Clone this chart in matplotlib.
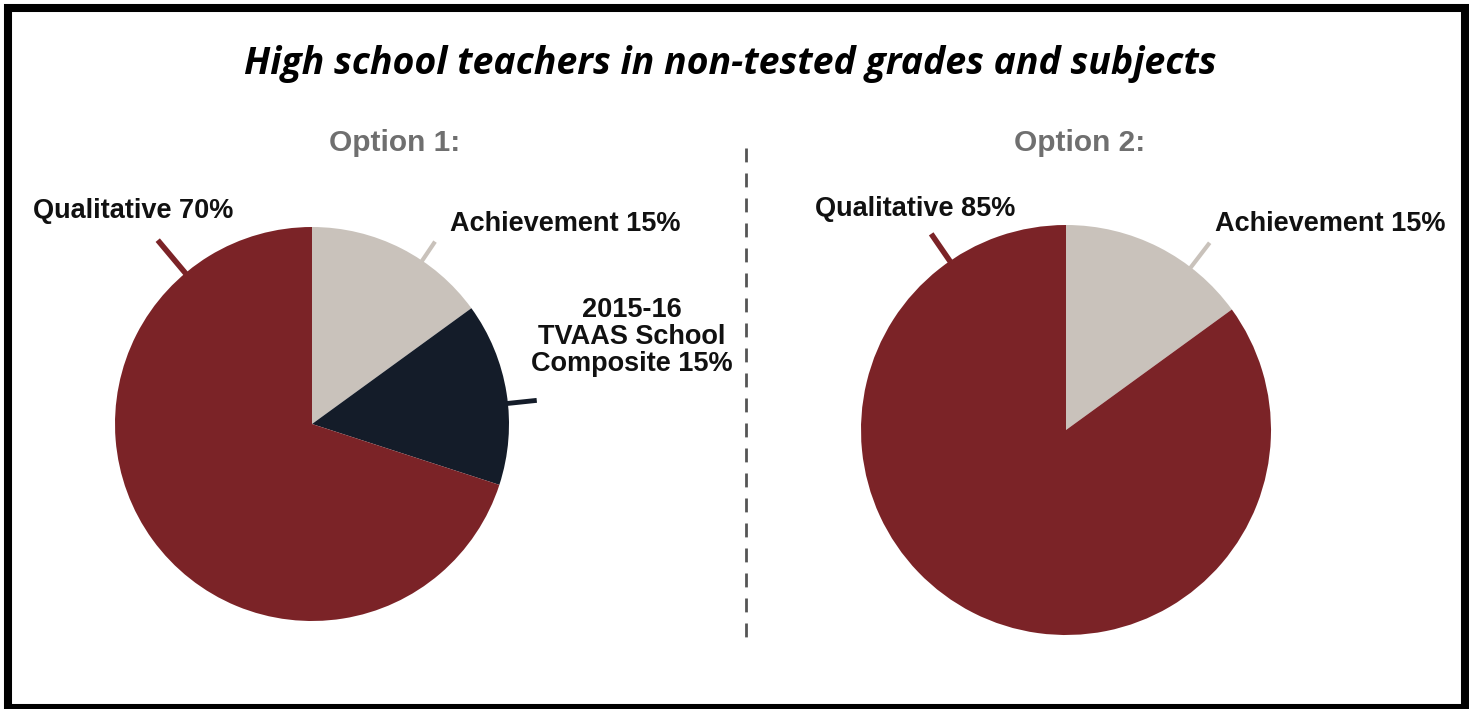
import numpy as np
import matplotlib.pyplot as plt
from matplotlib.patches import Rectangle

W, H = 1469, 709

title = 'High school teachers in non-tested grades and subjects'
option_titles = ['Option 1:', 'Option 2:']

# option 1 slices, clockwise from 12 o'clock
opt1_labels = ['Achievement 15%', '2015-16\nTVAAS School\nComposite 15%', 'Qualitative 70%']
opt1_values = [15, 15, 70]
# option 2 slices
opt2_labels = ['Achievement 15%', 'Qualitative 85%']
opt2_values = [15, 85]

red = '#7b2327'
gray = '#c9c2bb'
navy = '#141c29'

fig = plt.figure(figsize=(W / 100, H / 100), dpi=100)
ax = fig.add_axes([0, 0, 1, 1])


def py(y):
    # pixel row (from top) -> data y
    return H - y


def leader(cx, cy, r, ang, r0, r1, color, lw):
    a = np.deg2rad(ang)
    ax.plot([cx + r0 * np.cos(a), cx + r1 * np.cos(a)],
            [cy + r0 * np.sin(a), cy + r1 * np.sin(a)],
            color=color, lw=lw, solid_capstyle='butt')


lab_font = dict(family='Liberation Sans', fontweight='bold', fontsize=19.5, color='#111111')

# ---- option 1
c1 = (312, py(424))
r1 = 197
ax.pie(opt1_values, colors=[gray, navy, red], startangle=90, counterclock=False,
       center=c1, radius=r1, frame=True, wedgeprops=dict(linewidth=0))
leader(*c1, r1, 130, 195, 240, red, 4)
leader(*c1, r1, 56, 192, 220, gray, 3)
leader(*c1, r1, 6, 194, 226, navy, 3.5)
ax.text(33, py(211), opt1_labels[2], ha='left', va='center', **lab_font)
ax.text(450, py(224), opt1_labels[0], ha='left', va='center', **lab_font)
ax.text(632, py(337), opt1_labels[1], ha='center', va='center',
        multialignment='center', linespacing=1.05, **lab_font)

# ---- option 2
c2 = (1066, py(430))
r2 = 205
ax.pie(opt2_values, colors=[gray, red], startangle=90, counterclock=False,
       center=c2, radius=r2, frame=True, wedgeprops=dict(linewidth=0))
leader(*c2, r2, 124.5, 203, 238, red, 4)
leader(*c2, r2, 52.5, 203, 236, gray, 3)
ax.text(815, py(209), opt2_labels[1], ha='left', va='center', **lab_font)
ax.text(1215, py(224), opt2_labels[0], ha='left', va='center', **lab_font)

ax.set_xlim(0, W)
ax.set_ylim(0, H)
ax.set_aspect('equal')
ax.axis('off')

# option headings
opt_font = dict(family='Liberation Sans', fontweight='bold', fontsize=21.5, color='#6f6f6f')
ax.text(395, py(143), option_titles[0], ha='center', va='center', **opt_font)
ax.text(1080, py(143), option_titles[1], ha='center', va='center', **opt_font)

# divider
ax.plot([746, 746], [py(148), py(648)], color='#555555', lw=2, linestyle=(0, (5, 4)))

ax.text(730, py(64), title, ha='center', va='center', family='Open Sans',
        fontweight='bold', fontstyle='italic', fontsize=27, color='black')

# border
fig.patches.append(Rectangle((8 / W, 1 / H), (W - 12) / W, (H - 9) / H,
                             transform=fig.transFigure, fill=False,
                             edgecolor='black', linewidth=5.8))

fig.savefig('out.png', dpi=100)
